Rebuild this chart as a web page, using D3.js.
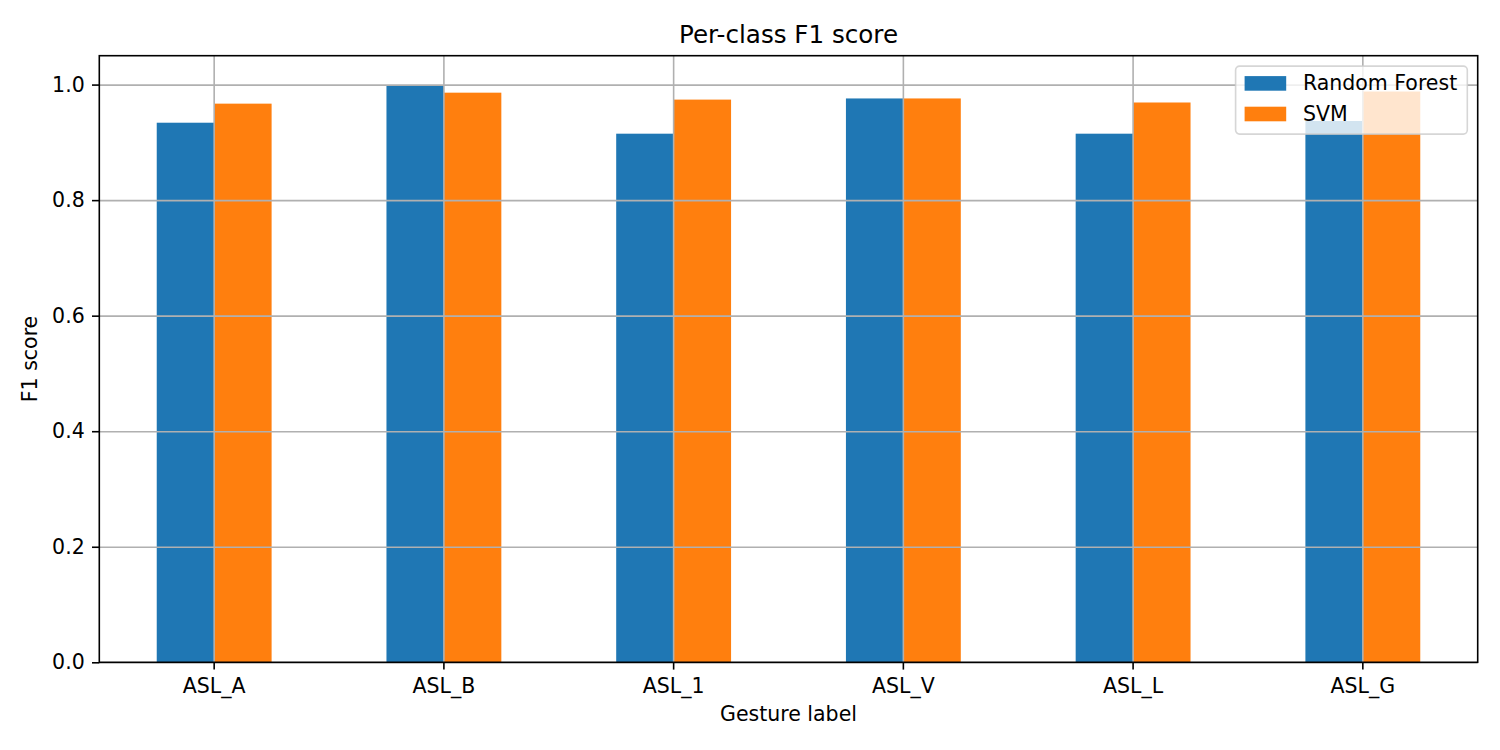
<!DOCTYPE html>
<html>
<head>
<meta charset="utf-8">
<script src="https://cdn.jsdelivr.net/npm/d3@7"></script>
<style>
  body { margin: 0; background: #fff; }
  text { font-family: "DejaVu Sans", sans-serif; fill: #000; }
</style>
</head>
<body>
<div id="chart"></div>
<script>
// chart data
var gestures = ["ASL_A", "ASL_B", "ASL_1", "ASL_V", "ASL_L", "ASL_G"];
var models = ["Random Forest", "SVM"];
var rfScores = [0.934, 0.999, 0.915, 0.976, 0.915, 0.937];
var svmScores = [0.967, 0.986, 0.974, 0.976, 0.969, 0.988];
var yTicks = [0.0, 0.2, 0.4, 0.6, 0.8, 1.0];
var colors = ["#1f77b4", "#ff7f0e"];

// set svg area and margins
var svgWidth = 1500;
var svgHeight = 750;

var margin = {
  top: 55.7,
  right: 22.3,
  bottom: 87.7,
  left: 99.3
};

var width = svgWidth - margin.left - margin.right;
var height = svgHeight - margin.top - margin.bottom;

var svg = d3.select("#chart")
  .append("svg")
  .attr("width", svgWidth)
  .attr("height", svgHeight);

var chartGroup = svg.append("g")
  .attr("transform", `translate(${margin.left}, ${margin.top})`);

// table of rows, one per gesture
var rows = gestures.map(function(g, i) {
  return { gesture: g, values: [rfScores[i], svmScores[i]] };
});

// scales
var xScale = d3.scaleBand()
  .domain(gestures)
  .range([0, width])
  .paddingInner(0.5)
  .paddingOuter(0.25);

var xSub = d3.scaleBand()
  .domain(models)
  .range([0, xScale.bandwidth()]);

var yScale = d3.scaleLinear()
  .domain([0, 1.05])
  .range([height, 0]);

// bars
var groups = chartGroup.selectAll(".gesture")
  .data(rows)
  .enter()
  .append("g")
  .attr("transform", d => `translate(${xScale(d.gesture)}, 0)`);

groups.selectAll("rect")
  .data(d => d.values.map((v, i) => ({ model: models[i], value: v, idx: i })))
  .enter()
  .append("rect")
  .attr("x", d => xSub(d.model))
  .attr("y", d => yScale(d.value))
  .attr("width", xSub.bandwidth())
  .attr("height", d => height - yScale(d.value))
  .attr("fill", d => colors[d.idx]);

// grid lines drawn over bars like matplotlib
var xGrid = chartGroup.append("g")
  .attr("transform", `translate(0, ${height})`)
  .call(d3.axisBottom(xScale).tickSize(-height).tickFormat(""));
xGrid.select(".domain").remove();
xGrid.selectAll("line").attr("stroke", "#b0b0b0").attr("stroke-width", 1.6);

var yGrid = chartGroup.append("g")
  .call(d3.axisLeft(yScale).tickValues(yTicks).tickSize(-width).tickFormat(""));
yGrid.select(".domain").remove();
yGrid.selectAll("line").attr("stroke", "#b0b0b0").attr("stroke-width", 1.6);

// axes
var bottomAxis = d3.axisBottom(xScale).tickSize(7.3).tickPadding(7.3);
var leftAxis = d3.axisLeft(yScale).tickValues(yTicks).tickFormat(d3.format(".1f")).tickSize(7.3).tickPadding(7.3);

var xAxisG = chartGroup.append("g")
  .attr("transform", `translate(0, ${height})`)
  .call(bottomAxis);

var yAxisG = chartGroup.append("g")
  .call(leftAxis);

[xAxisG, yAxisG].forEach(function(g) {
  g.select(".domain").remove();
  g.selectAll("line").attr("stroke", "#000").attr("stroke-width", 1.6);
  g.selectAll("text").style("font-size", "20.5px").attr("fill", "#000");
});

xAxisG.selectAll("text").attr("y", 30.7).attr("dy", null);

// frame
chartGroup.append("rect")
  .attr("width", width)
  .attr("height", height)
  .attr("fill", "none")
  .attr("stroke", "#000")
  .attr("stroke-width", 1.6);

// title and axis labels
svg.append("text")
  .attr("x", margin.left + width / 2)
  .attr("y", 43.3)
  .style("text-anchor", "middle")
  .style("font-size", "24.6px")
  .text("Per-class F1 score");

svg.append("text")
  .attr("x", margin.left + width / 2)
  .attr("y", 721)
  .style("text-anchor", "middle")
  .style("font-size", "20.5px")
  .text("Gesture label");

svg.append("text")
  .attr("transform", `translate(36.7, ${margin.top + height / 2}) rotate(-90)`)
  .style("text-anchor", "middle")
  .style("font-size", "20.5px")
  .text("F1 score");

// legend in the upper right
var legend = chartGroup.append("g")
  .attr("transform", `translate(${width - 10.4 - 231.7}, 10.4)`);

legend.append("rect")
  .attr("width", 231.7)
  .attr("height", 68)
  .attr("rx", 4)
  .attr("fill", "#fff")
  .attr("fill-opacity", 0.8)
  .attr("stroke", "#cccccc")
  .attr("stroke-opacity", 0.8)
  .attr("stroke-width", 1.6);

var items = legend.selectAll(".item")
  .data(models)
  .enter()
  .append("g")
  .attr("transform", (d, i) => `translate(9, ${10 + i * 30.6})`);

items.append("rect")
  .attr("width", 41.6)
  .attr("height", 14.6)
  .attr("fill", (d, i) => colors[i]);

items.append("text")
  .attr("x", 58.3)
  .attr("y", 14.2)
  .style("font-size", "20.5px")
  .text(d => d);
</script>
</body>
</html>
